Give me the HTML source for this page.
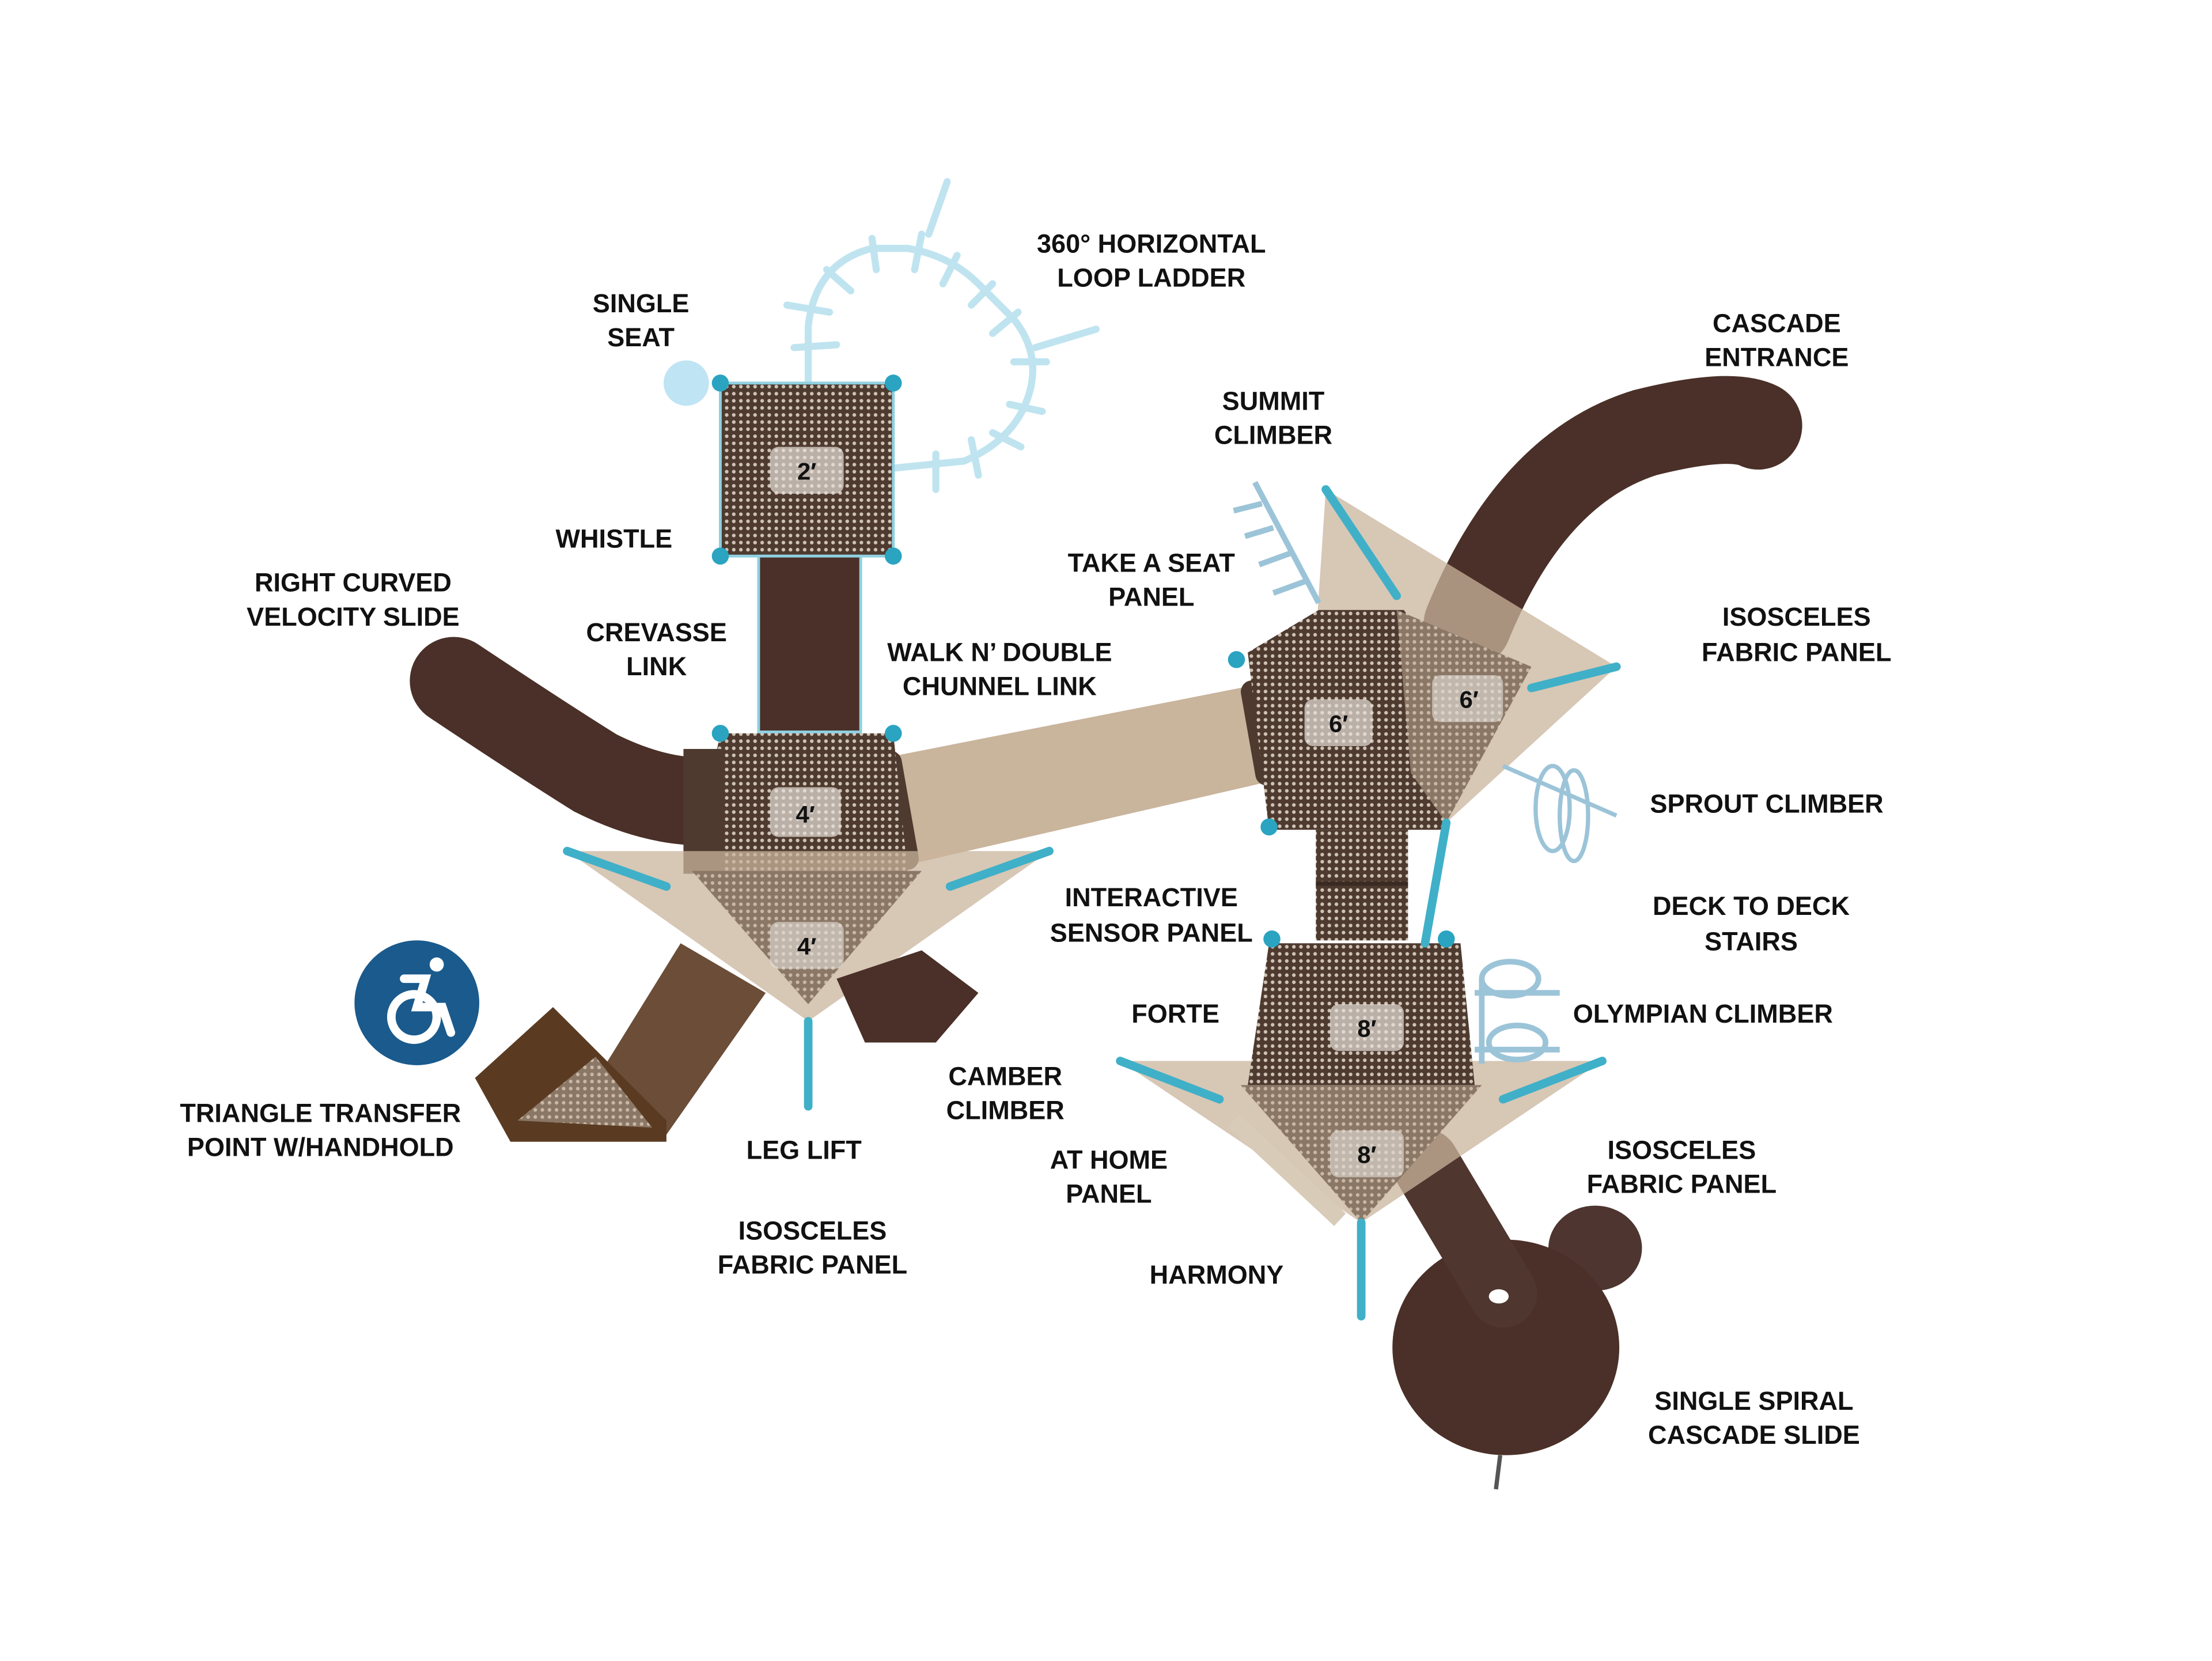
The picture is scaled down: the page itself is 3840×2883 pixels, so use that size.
<!DOCTYPE html>
<html><head><meta charset="utf-8"><style>
html,body{margin:0;padding:0;background:#fff}
svg{display:block}
text{font-family:"Liberation Sans",sans-serif;font-weight:bold;font-size:18.3px;fill:#111;text-anchor:middle}
.n{font-size:17px}
</style></head><body>
<svg width="3840" height="2883" viewBox="0 0 1560 1171" xmlns="http://www.w3.org/2000/svg">
<defs>
<pattern id="d" width="5" height="5" patternUnits="userSpaceOnUse">
<rect width="5" height="5" fill="#4e3a2f"/><circle cx="2.5" cy="2.5" r="1.3" fill="#cfc3b6"/>
</pattern>
<pattern id="dl" width="5" height="5" patternUnits="userSpaceOnUse">
<rect width="5" height="5" fill="#8b7766"/><circle cx="2.5" cy="2.5" r="1.3" fill="#c9b8a6"/>
</pattern>
</defs>
<rect width="1560" height="1171" fill="#fff"/>

<!-- loop ladder -->
<g stroke="#bfe4f0" stroke-width="5" fill="none" stroke-linecap="round">
<path d="M570 270 L570 230 Q575 185 615 175 L640 175 Q670 180 690 200 L715 225 Q735 250 725 280 Q715 310 680 325 L630 330"/>
<path d="M655 165 L668 128"/><path d="M730 245 L773 232"/>
<path d="M555 215 L585 220 M560 245 L590 243 M583 190 L600 205 M615 168 L618 190 M650 165 L645 190 M675 180 L665 200 M700 200 L685 215 M718 220 L700 235 M738 255 L715 255 M735 290 L712 285 M720 315 L700 305 M690 335 L685 310 M660 345 L660 320"/>
</g>
<circle cx="484" cy="270" r="16" fill="#bfe4f4"/>

<!-- left slide -->
<path d="M320 480 Q380 520 420 545 Q460 565 495 565" stroke="#4a3028" stroke-width="62" fill="none" stroke-linecap="round"/>
<!-- cascade slide top right -->
<path d="M1035 440 Q1080 330 1160 305 Q1220 290 1240 300" stroke="#4a3028" stroke-width="62" fill="none" stroke-linecap="round"/>
<!-- spiral -->
<ellipse cx="1125" cy="880" rx="33" ry="30" fill="#4e3530"/>
<ellipse cx="1062" cy="950" rx="80" ry="76" fill="#4a3028"/>
<path d="M1005 820 L1060 912" stroke="#4f362e" stroke-width="48" fill="none" stroke-linecap="round"/>
<ellipse cx="1057" cy="914" rx="7" ry="5" fill="#fff"/>
<line x1="1058" y1="1026" x2="1055" y2="1050" stroke="#555" stroke-width="3"/>

<!-- tube -->
<polygon points="620,535 900,480 908,548 630,612" fill="#c9b49c"/>
<rect x="612" y="530" width="30" height="85" rx="8" fill="#4e3a2f" transform="rotate(-10 627 572)"/>
<rect x="880" y="478" width="30" height="75" rx="8" fill="#4e3a2f" transform="rotate(-10 895 515)"/>

<!-- deck 2 -->
<rect x="508" y="270" width="122" height="122" fill="url(#d)" stroke="#8fd0e0" stroke-width="2"/>
<rect x="543" y="315" width="52" height="33" rx="6" fill="#e8e2dc" opacity=".7"/>
<text x="569" y="338" class="n">2′</text>
<!-- crevasse -->
<rect x="535" y="392" width="72" height="124" fill="#4a3028" stroke="#8fd0e0" stroke-width="2"/>
<!-- deck 4 -->
<polygon points="508,517 630,517 640,614 488,614" fill="url(#d)"/>
<rect x="482" y="528" width="28" height="88" fill="#4e3a2f"/>
<rect x="543" y="555" width="50" height="35" rx="6" fill="#e8e2dc" opacity=".7"/>
<text x="568" y="580" class="n">4′</text>
<!-- fabric 4 -->
<polygon points="400,600 740,600 570,720" fill="#c9b49c" opacity=".75"/>
<polygon points="488,614 650,614 570,708" fill="url(#dl)"/>
<rect x="543" y="650" width="52" height="33" rx="6" fill="#e8e2dc" opacity=".6"/>
<text x="569" y="673" class="n">4′</text>
<!-- ramp to transfer -->
<polygon points="480,665 540,700 470,800 415,770" fill="#6b4d38"/>
<polygon points="590,690 650,670 690,700 660,735 610,735" fill="#4a3028"/>
<!-- transfer point -->
<polygon points="335,760 390,710 470,790 470,805 360,805" fill="#5a3b22"/>
<polygon points="365,790 420,745 460,795" fill="url(#dl)"/>
<!-- accessibility -->
<circle cx="294" cy="707" r="44" fill="#1a5a8c"/>
<g stroke="#fff" stroke-width="6" fill="none" stroke-linecap="round">
<circle cx="292" cy="717" r="16"/><path d="M285 690 L300 690 L294 710 L312 710 L318 728"/>
</g>
<circle cx="308" cy="680" r="5" fill="#fff"/>

<!-- deck 6 -->
<polygon points="935,345 1140,470 1020,580 920,570" fill="#c9b49c" opacity=".75"/>
<polygon points="880,460 930,430 990,430 1020,470 1020,585 895,585" fill="url(#d)"/>
<polygon points="985,430 1080,470 1020,580 995,545" fill="url(#dl)"/>
<rect x="920" y="493" width="48" height="33" rx="6" fill="#e8e2dc" opacity=".7"/>
<text x="944" y="516" class="n">6′</text>
<rect x="1010" y="476" width="50" height="33" rx="6" fill="#e8e2dc" opacity=".6"/>
<text x="1036" y="499" class="n">6′</text>
<!-- summit climber -->
<g stroke="#9cc4d8" stroke-width="4"><path d="M885 340 L930 425 M870 360 L890 355 M878 378 L898 372 M888 398 L910 390 M898 418 L920 410"/></g>
<!-- sprout -->
<g stroke="#9cc4d8" stroke-width="3" fill="none"><path d="M1060 540 L1140 575"/><ellipse cx="1095" cy="570" rx="12" ry="30"/><ellipse cx="1110" cy="575" rx="10" ry="32"/></g>
<!-- stairs -->
<rect x="928" y="585" width="65" height="78" fill="url(#d)"/>
<line x1="928" y1="623" x2="993" y2="623" stroke="#3a2a22" stroke-width="3"/>
<!-- deck 8 -->
<polygon points="790,748 1130,748 960,862" fill="#c9b49c" opacity=".75"/>
<polygon points="895,665 1030,665 1040,765 880,765" fill="url(#d)"/>
<polygon points="875,765 1045,765 960,862" fill="url(#dl)"/>
<rect x="938" y="708" width="52" height="33" rx="6" fill="#e8e2dc" opacity=".7"/>
<text x="964" y="731" class="n">8′</text>
<rect x="938" y="797" width="52" height="33" rx="6" fill="#e8e2dc" opacity=".6"/>
<text x="964" y="820" class="n">8′</text>
<path d="M870 790 L945 860" stroke="#d8cbb8" stroke-width="12"/>
<g stroke="#9cc4d8" stroke-width="4" fill="none"><path d="M1040 700 L1100 700 M1040 740 L1100 740 M1045 690 L1045 750"/>
<ellipse cx="1065" cy="690" rx="20" ry="12"/><ellipse cx="1070" cy="735" rx="20" ry="12"/></g>

<!-- teal posts -->
<g stroke="#3fb0c8" stroke-width="6" stroke-linecap="round">
<path d="M400 600 L470 625 M740 600 L670 625 M570 720 L570 780 M790 748 L860 775 M1130 748 L1060 775 M960 862 L960 928 M935 345 L985 420 M1140 470 L1080 485 M1020 580 L1005 665"/>
</g>
<g fill="#2aa4c0">
<circle cx="508" cy="270" r="6"/><circle cx="630" cy="270" r="6"/><circle cx="508" cy="392" r="6"/><circle cx="630" cy="392" r="6"/>
<circle cx="508" cy="517" r="6"/><circle cx="630" cy="517" r="6"/>
<circle cx="872" cy="465" r="6"/><circle cx="895" cy="583" r="6"/><circle cx="897" cy="662" r="6"/><circle cx="1020" cy="662" r="6"/>
</g>

<!-- labels -->
<text x="812" y="178">360° HORIZONTAL</text><text x="812" y="202">LOOP LADDER</text>
<text x="452" y="220">SINGLE</text><text x="452" y="244">SEAT</text>
<text x="1253" y="234">CASCADE</text><text x="1253" y="258">ENTRANCE</text>
<text x="898" y="289">SUMMIT</text><text x="898" y="313">CLIMBER</text>
<text x="433" y="386">WHISTLE</text>
<text x="812" y="403">TAKE A SEAT</text><text x="812" y="427">PANEL</text>
<text x="249" y="417">RIGHT CURVED</text><text x="249" y="441">VELOCITY SLIDE</text>
<text x="1267" y="441">ISOSCELES</text><text x="1267" y="466">FABRIC PANEL</text>
<text x="463" y="452">CREVASSE</text><text x="463" y="476">LINK</text>
<text x="705" y="466">WALK N’ DOUBLE</text><text x="705" y="490">CHUNNEL LINK</text>
<text x="1246" y="573">SPROUT CLIMBER</text>
<text x="812" y="639">INTERACTIVE</text><text x="812" y="664">SENSOR PANEL</text>
<text x="1235" y="645">DECK TO DECK</text><text x="1235" y="670">STAIRS</text>
<text x="829" y="721">FORTE</text>
<text x="1201" y="721">OLYMPIAN CLIMBER</text>
<text x="709" y="765">CAMBER</text><text x="709" y="789">CLIMBER</text>
<text x="226" y="791">TRIANGLE TRANSFER</text><text x="226" y="815">POINT W/HANDHOLD</text>
<text x="567" y="817">LEG LIFT</text>
<text x="782" y="824">AT HOME</text><text x="782" y="848">PANEL</text>
<text x="1186" y="817">ISOSCELES</text><text x="1186" y="841">FABRIC PANEL</text>
<text x="573" y="874">ISOSCELES</text><text x="573" y="898">FABRIC PANEL</text>
<text x="858" y="905">HARMONY</text>
<text x="1237" y="994">SINGLE SPIRAL</text><text x="1237" y="1018">CASCADE SLIDE</text>
</svg>
</body></html>
